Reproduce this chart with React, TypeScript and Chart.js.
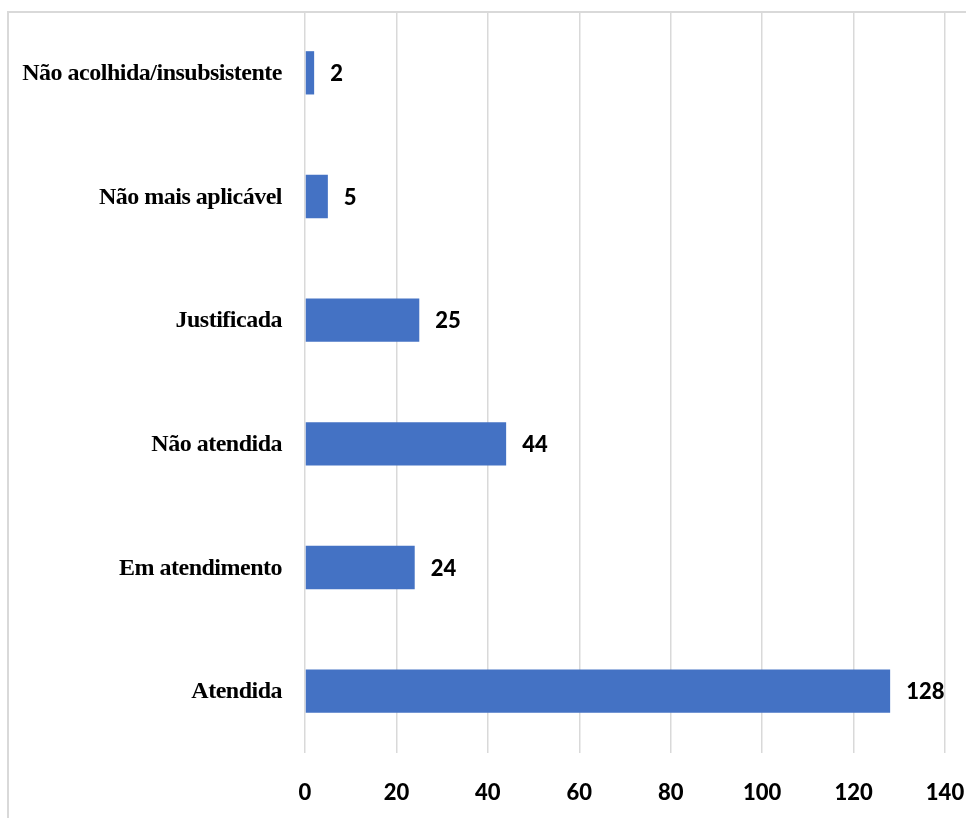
import React, { useEffect, useRef } from "react";
import { Chart, registerables } from "chart.js";

Chart.register(...registerables);

const categories = [
  "Não acolhida/insubsistente",
  "Não mais aplicável",
  "Justificada",
  "Não atendida",
  "Em atendimento",
  "Atendida",
];
const values = [2, 5, 25, 44, 24, 128];
const xMin = 0;
const xMax = 140;
const xStep = 20;

const barColor = "#4472C4";
const gridColor = "#d9d9d9";
const catFont = "bold 24px 'Liberation Serif', 'Times New Roman', serif";
const numFamily = "Lato, 'Open Sans', sans-serif";
const numFont = `900 22px ${numFamily}`;

const decorPlugin = {
  id: "decor",
  afterDraw(chart: any) {
    const ctx = chart.ctx as CanvasRenderingContext2D;
    const y = chart.scales.y;
    const x = chart.scales.x;
    ctx.save();
    // outer frame (left and top)
    ctx.strokeStyle = gridColor;
    ctx.lineWidth = 2;
    ctx.beginPath();
    ctx.moveTo(8, 818);
    ctx.lineTo(8, 12);
    ctx.lineTo(966, 12);
    ctx.stroke();
    // category labels
    ctx.fillStyle = "#000";
    ctx.font = catFont;
    (ctx as any).letterSpacing = "-0.5px";
    ctx.textAlign = "right";
    ctx.textBaseline = "middle";
    categories.forEach((c, i) => {
      ctx.fillText(c, chart.chartArea.left - 23, y.getPixelForValue(i) + 1);
    });
    (ctx as any).letterSpacing = "0px";
    // value labels
    ctx.font = numFont;
    ctx.textAlign = "left";
    values.forEach((v, i) => {
      ctx.fillText(String(v), x.getPixelForValue(v) + 16, y.getPixelForValue(i) + 1);
    });
    ctx.restore();
  },
};

export default function App() {
  const ref = useRef<HTMLCanvasElement | null>(null);
  useEffect(() => {
    if (!ref.current) return;
    const chart = new Chart(ref.current, {
      type: "bar",
      data: {
        labels: categories,
        datasets: [
          {
            data: values,
            backgroundColor: barColor,
            borderWidth: 0,
            barPercentage: 0.35,
            categoryPercentage: 1,
          },
        ],
      },
      options: {
        indexAxis: "y",
        responsive: false,
        animation: false,
        layout: { padding: { left: 305, top: 11, right: 21, bottom: 13 } },
        plugins: { legend: { display: false }, tooltip: { enabled: false } },
        scales: {
          x: {
            min: xMin,
            max: xMax,
            afterFit(scale: any) {
              scale.height = 52;
              scale.paddingLeft = 0;
              scale.paddingRight = 0;
            },
            ticks: {
              stepSize: xStep,
              maxRotation: 0,
              color: "#000",
              font: { family: numFamily, size: 22, weight: "900", lineHeight: 1.2 },
              padding: 27,
            },
            grid: { color: gridColor, lineWidth: 1.5, drawTicks: false },
            border: { display: false },
          },
          y: {
            afterFit(scale: any) {
              scale.width = 0;
              scale.paddingTop = 0;
              scale.paddingBottom = 0;
            },
            ticks: { display: false },
            grid: { display: false, drawTicks: false },
            border: { display: false },
          },
        },
      },
      plugins: [decorPlugin],
    });
    return () => chart.destroy();
  }, []);
  return (
    <div style={{ position: "fixed", left: 0, top: 0, width: 966, height: 818, background: "#fff" }}>
      <canvas ref={ref} width={966} height={818} style={{ width: 966, height: 818, display: "block" }} />
    </div>
  );
}
